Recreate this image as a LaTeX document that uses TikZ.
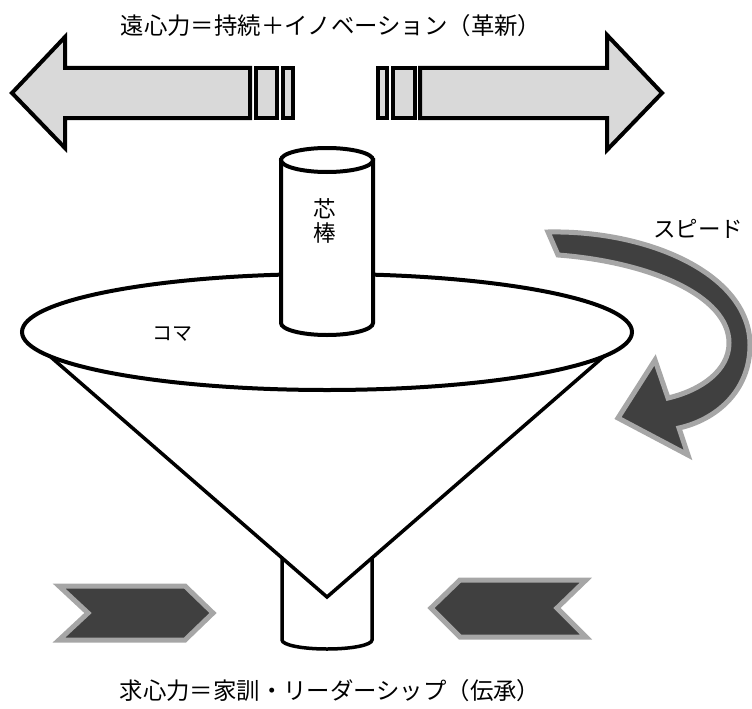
\documentclass[tikz,border=0pt]{standalone}
\usepackage{fontspec}
\usepackage{tikz}
\newfontfamily\jp{Noto Sans CJK JP}

\begin{document}
\begin{tikzpicture}[x=1pt,y=-1pt,
    block/.style={draw=black,line width=4pt,fill=gray!30},
    swirl/.style={draw=black!35,line width=5pt,fill=black!75},
    outline/.style={line width=4pt},
    jtext/.style={font=\jp\fontsize{#1}{#1}\selectfont,inner sep=0pt}]
    \useasboundingbox (0,0) rectangle (752,709);

    % outward arrows
    \draw[block] (12,93)--(65,37)--(65,68)--(250,68)--(250,118)--(65,118)--(65,148)--cycle;
    \draw[block] (662,93)--(607,35)--(607,68)--(420,68)--(420,118)--(607,118)--(607,150)--cycle;
    \foreach \a/\b in {256/277,283/293,378/387,393/415}{
      \draw[block] (\a,68) rectangle (\b,118);
    }
    \node[jtext=23.4] (outer) at (331,26) {遠心力＝持続＋イノベーション（革新）};

    % stem under the cone
    \coordinate (apex) at (327,597);
    \draw[line width=3.5pt] (282,558)--(282,640) arc[start angle=180,end angle=0,x radius=45,y radius=9]--(372,558);
    % cone and disc
    \draw[line width=3.5pt] (22,332)--(apex)--(632,332);
    \draw[outline,fill=white] (327,332) ellipse [x radius=305,y radius=58];
    \node[jtext=20] (top) at (172,334) {コマ};

    % core rod
    \draw[outline,fill=white] (281,160)--(281,323) arc[start angle=180,end angle=0,x radius=46,y radius=12]--(373,160)--cycle;
    \draw[outline,fill=white] (327,160) ellipse [x radius=46,y radius=12];
    \node[jtext=22.5,align=center] (core) at (325,221) {芯\\[2pt]棒};

    % spin arrow
    \draw[swirl] (548,232) .. controls (650,230) and (750,275) .. (750,345)
      .. controls (750,392) and (715,420) .. (679,428)
      --(688,455)--(618,418)--(655,360)--(668,398)
      .. controls (702,390) and (729,370) .. (729,343)
      .. controls (729,296) and (650,262) .. (558,255)--cycle;
    \node[jtext=22.5] (speed) at (698,229) {スピード};

    % inward chevrons
    \draw[swirl] (59,586)--(185,586)--(213,613)--(185,640)--(59,640)--(88,613)--cycle;
    \draw[swirl] (431,608)--(460,580)--(586,580)--(557,608)--(586,637)--(460,637)--cycle;
    \node[jtext=23.4] (inner) at (330,691) {求心力＝家訓・リーダーシップ（伝承）};
\end{tikzpicture}
\end{document}
